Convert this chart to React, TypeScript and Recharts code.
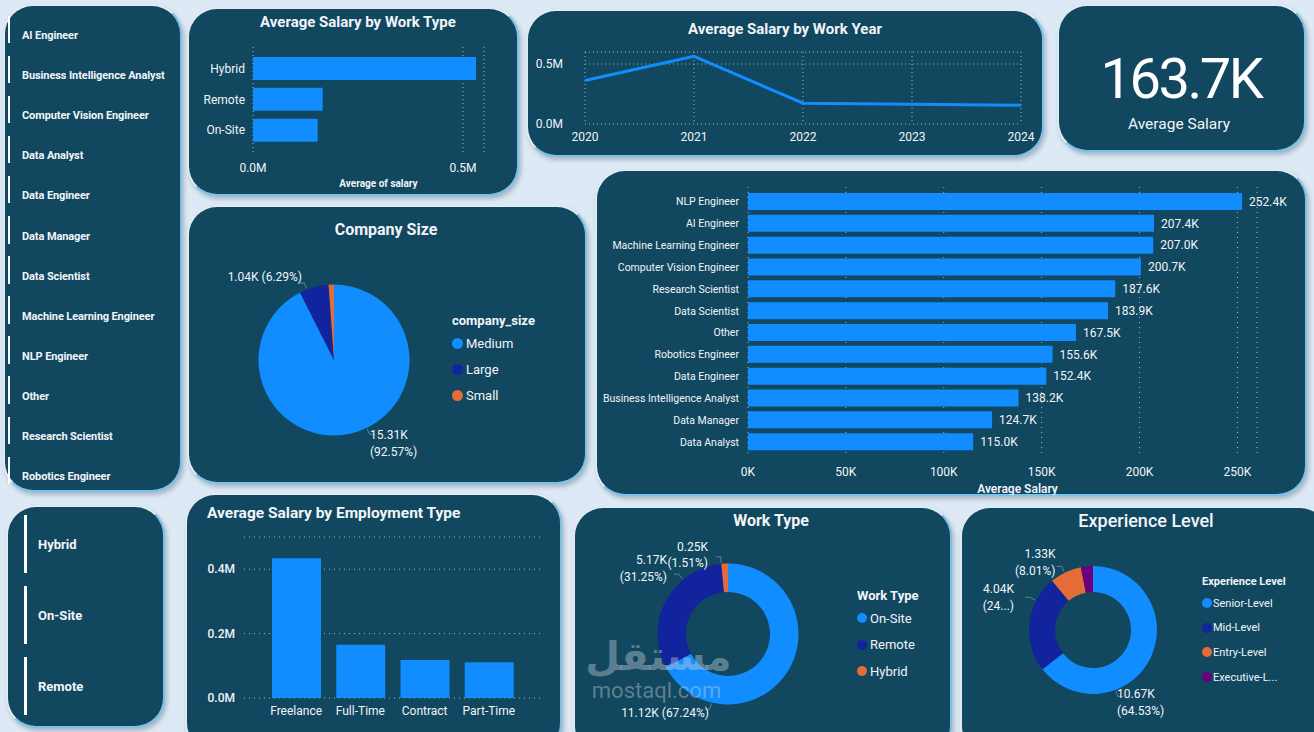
import React from "react";
import {
  BarChart,
  Bar,
  XAxis,
  YAxis,
  CartesianGrid,
  LineChart,
  Line,
  PieChart,
  Pie,
  Cell,
  Legend,
  LabelList,
  Label,
} from "recharts";

const FONT = "Roboto, 'Noto Sans', sans-serif";
const PANEL = "#11475f";
const BLUE = "#118dff";
const NAVY = "#12239e";
const ORANGE = "#e66c37";
const PURPLE = "#6b007b";
const GRID = "#9fb6c4";
const INK = "#f1f5f8";

// slicers
const jobSlicer = [
  "AI Engineer",
  "Business Intelligence Analyst",
  "Computer Vision Engineer",
  "Data Analyst",
  "Data Engineer",
  "Data Manager",
  "Data Scientist",
  "Machine Learning Engineer",
  "NLP Engineer",
  "Other",
  "Research Scientist",
  "Robotics Engineer",
];
const workSlicer = ["Hybrid", "On-Site", "Remote"];

// average salary by work type (millions)
const workTypes = ["Hybrid", "Remote", "On-Site"];
const workTypeSalary = [0.531, 0.166, 0.154];

// average salary by work year (millions)
const years = ["2020", "2021", "2022", "2023", "2024"];
const yearSalary = [0.363, 0.564, 0.173, 0.165, 0.157];

const kpiValue = "163.7K";
const kpiLabel = "Average Salary";

// company size (count in K)
const companySizes = ["Medium", "Large", "Small"];
const companyCounts = [15.31, 1.04, 0.19];
const companyPct = [92.57, 6.29, 1.14];
const companyColors = [BLUE, NAVY, ORANGE];

// average salary by job title (K)
const roles = [
  "NLP Engineer",
  "AI Engineer",
  "Machine Learning Engineer",
  "Computer Vision Engineer",
  "Research Scientist",
  "Data Scientist",
  "Other",
  "Robotics Engineer",
  "Data Engineer",
  "Business Intelligence Analyst",
  "Data Manager",
  "Data Analyst",
];
const roleSalary = [252.4, 207.4, 207.0, 200.7, 187.6, 183.9, 167.5, 155.6, 152.4, 138.2, 124.7, 115.0];
const roleTicks = [0, 50, 100, 150, 200, 250];

// average salary by employment type (millions)
const employmentTypes = ["Freelance", "Full-Time", "Contract", "Part-Time"];
const employmentSalary = [0.434, 0.165, 0.118, 0.111];

// work type counts (K)
const workNames = ["On-Site", "Remote", "Hybrid"];
const workCounts = [11.12, 5.17, 0.25];
const workPct = [67.24, 31.25, 1.51];
const workColors = [BLUE, NAVY, ORANGE];

// experience level counts (K)
const expNames = ["Senior-Level", "Mid-Level", "Entry-Level", "Executive-Level"];
const expCounts = [10.67, 4.04, 1.33, 0.5];
const expPct = [64.53, 24.43, 8.01, 3.03];
const expColors = [BLUE, NAVY, ORANGE, PURPLE];

const RAD = Math.PI / 180;
const polar = (cx: number, cy: number, r: number, a: number) => ({
  x: cx + r * Math.cos(-a * RAD),
  y: cy + r * Math.sin(-a * RAD),
});

type Spot = { dx: number; dy: number; anchor: "start" | "end"; wrap: boolean; clip?: boolean } | null;

function pieLabel(counts: number[], pcts: number[], spots: Spot[]) {
  return (p: any) => {
    const s = spots[p.index];
    if (!s) return null;
    const lx = p.cx + s.dx;
    const ly = p.cy + s.dy;
    const cnt = `${counts[p.index].toFixed(2)}K`;
    let pct = `(${pcts[p.index].toFixed(2)}%)`;
    if (s.clip) pct = pct.slice(0, 3) + "...)";
    // leader starts on the arc, inside the slice, facing the label
    const lo = Math.min(p.startAngle, p.endAngle);
    const hi = Math.max(p.startAngle, p.endAngle);
    let t = Math.atan2(-s.dy, s.dx) / RAD;
    while (t > hi) t -= 360;
    while (t < lo) t += 360;
    if (t > hi) t = t - hi < lo + 360 - t ? hi : lo;
    const a = polar(p.cx, p.cy, p.outerRadius + 1, t);
    const b = polar(p.cx, p.cy, p.outerRadius + 7, t);
    const dir = s.anchor === "start" ? 1 : -1;
    return (
      <g>
        <polyline
          points={`${a.x},${a.y} ${b.x},${b.y} ${b.x + dir * 5},${b.y}`}
          fill="none"
          stroke="#5f8599"
          strokeWidth={1}
        />
        {s.wrap ? (
          <text x={lx} y={ly} textAnchor={s.anchor} fill={INK} fontSize={12} fontFamily={FONT} dominantBaseline="central">
            <tspan x={lx} dy={0}>{cnt}</tspan>
            <tspan x={lx} dy={16.5}>{pct}</tspan>
          </text>
        ) : (
          <text x={lx} y={ly} textAnchor={s.anchor} fill={INK} fontSize={12} fontFamily={FONT} dominantBaseline="central">
            {`${cnt} ${pct}`}
          </text>
        )}
      </g>
    );
  };
}

function PieLegend({ title, names, colors, size, titleH, rowH, dot, gap }: any) {
  return (
    <div style={{ fontFamily: FONT, color: INK, whiteSpace: "nowrap" }}>
      <div style={{ height: titleH, lineHeight: `${titleH}px`, fontWeight: 700, fontSize: size }}>{title}</div>
      {names.map((n: string, i: number) => (
        <div key={n} style={{ height: rowH, display: "flex", alignItems: "center", fontSize: size }}>
          <span
            style={{ width: dot * 2, height: dot * 2, borderRadius: "50%", background: colors[i], marginRight: gap, flex: "none" }}
          />
          <span>{n}</span>
        </div>
      ))}
    </div>
  );
}

// one-line category tick (the default one wraps long names)
const RoleTick = (p: any) => (
  <text x={p.x} y={p.y} textAnchor="end" dominantBaseline="central" fill={INK} fontSize={10.5} fontFamily={FONT}>
    {p.payload.value}
  </text>
);

function Panel({ x, y, w, h }: { x: number; y: number; w: number; h: number }) {
  return (
    <div
      style={{
        position: "absolute",
        left: x,
        top: y,
        width: w,
        height: h,
        boxSizing: "border-box",
        background: PANEL,
        borderRadius: 30,
        border: "2px solid",
        borderColor: "#dfeaf3 #7cc2e8 #7cc2e8 #dfeaf3",
        boxShadow: "2px 3px 4px rgba(70,90,110,0.35)",
      }}
    />
  );
}

function T({ x, y, size, weight = 400, align = "left", children, color = INK, spacing = 0 }: any) {
  const w = 600;
  const left = align === "center" ? x - w / 2 : align === "right" ? x - w : x;
  return (
    <div
      style={{
        position: "absolute",
        left,
        top: y - 20,
        width: w,
        height: 40,
        lineHeight: "40px",
        textAlign: align,
        fontSize: size,
        fontWeight: weight,
        color,
        letterSpacing: spacing,
        whiteSpace: "nowrap",
        fontFamily: FONT,
      }}
    >
      {children}
    </div>
  );
}

function At({ x, y, children }: any) {
  return <div style={{ position: "absolute", left: x, top: y }}>{children}</div>;
}

const tickStyle = { fill: INK, fontSize: 12, fontFamily: FONT };
const fmtM = (v: number) => `${v.toFixed(1)}M`;

export default function App() {
  const workTypeData = workTypes.map((name, i) => ({ name, salary: workTypeSalary[i] }));
  const yearData = years.map((year, i) => ({ year, salary: yearSalary[i] }));
  const companyData = companySizes.map((name, i) => ({ name, value: companyCounts[i] }));
  const roleData = roles.map((name, i) => ({ name, salary: roleSalary[i] }));
  const employmentData = employmentTypes.map((name, i) => ({ name, salary: employmentSalary[i] }));
  const workData = workNames.map((name, i) => ({ name, value: workCounts[i] }));
  const expData = expNames.map((name, i) => ({ name, value: expCounts[i] }));

  return (
    <div
      style={{
        position: "absolute",
        left: 0,
        top: 0,
        width: 1314,
        height: 732,
        overflow: "hidden",
        background: "#dde9f4",
        fontFamily: FONT,
      }}
    >
      {/* panels */}
      <Panel x={3} y={4} w={179} h={488} />
      <Panel x={187} y={7} w={332} h={189} />
      <Panel x={526} y={9} w={518} h={148} />
      <Panel x={1057} y={4} w={249} h={148} />
      <Panel x={187} y={205} w={400} h={279} />
      <Panel x={595} y={169} w={712} h={327} />
      <Panel x={6} y={505} w={159} h={223} />
      <Panel x={185} y={493} w={377} h={260} />
      <Panel x={573} y={506} w={379} h={250} />
      <Panel x={960} y={506} w={370} h={250} />

      {/* job title slicer */}
      {jobSlicer.map((name, i) => {
        const cy = 36 + i * 40.1;
        return (
          <React.Fragment key={name}>
            <div style={{ position: "absolute", left: 8, top: cy - 20.5, width: 2, height: 27.5, background: "#ffffff" }} />
            <T x={22} y={cy} size={11} weight={700} spacing={-0.1}>
              {name}
            </T>
          </React.Fragment>
        );
      })}

      {/* work type slicer */}
      {workSlicer.map((name, i) => {
        const cy = 545 + i * 71;
        return (
          <React.Fragment key={name}>
            <div style={{ position: "absolute", left: 24, top: cy - 30, width: 2.5, height: 58, background: "#ffffff" }} />
            <T x={38} y={cy} size={13} weight={700}>
              {name}
            </T>
          </React.Fragment>
        );
      })}

      {/* titles */}
      <T x={358} y={21.5} size={15} weight={700} align="center">
        Average Salary by Work Type
      </T>
      <T x={785} y={28.5} size={15} weight={700} align="center">
        Average Salary by Work Year
      </T>
      <T x={386} y={230} size={16} weight={700} align="center">
        Company Size
      </T>
      <T x={207} y={513} size={15.5} weight={700}>
        Average Salary by Employment Type
      </T>
      <T x={771} y={521} size={16} weight={700} align="center">
        Work Type
      </T>
      <T x={1146} y={521} size={18} weight={500} align="center">
        Experience Level
      </T>

      {/* KPI */}
      <T x={1181} y={79} size={56} weight={400} align="center" spacing={-2.5} color="#ffffff">
        {kpiValue}
      </T>
      <T x={1179} y={124} size={15.5} align="center">
        {kpiLabel}
      </T>

      {/* Average salary by work type */}
      <At x={190} y={40}>
        <BarChart width={310} height={150} data={workTypeData} layout="vertical" margin={{ top: 7, right: 16, bottom: 0, left: 0 }}>
          <CartesianGrid horizontal={false} stroke={GRID} strokeDasharray="1 3" />
          <XAxis
            type="number"
            domain={[0, 0.55]}
            ticks={[0, 0.5]}
            tickFormatter={fmtM}
            axisLine={false}
            tickLine={false}
            tick={tickStyle}
            height={35}
          >
            <Label value="Average of salary" position="insideBottom" offset={3} dx={10} fill={INK} fontSize={10} fontWeight={700} fontFamily={FONT} />
          </XAxis>
          <YAxis
            type="category"
            dataKey="name"
            width={63}
            axisLine={false}
            tickLine={false}
            tick={tickStyle}
            padding={{ top: 6, bottom: 9.5 }}
          />
          <Bar dataKey="salary" fill={BLUE} barSize={23} isAnimationActive={false} />
        </BarChart>
      </At>

      {/* Average salary by work year */}
      <At x={530} y={40}>
        <LineChart width={510} height={108} data={yearData} margin={{ top: 12, right: 19, bottom: 0, left: 10 }}>
          <CartesianGrid stroke={GRID} strokeDasharray="1 3" />
          <XAxis dataKey="year" scale="point" axisLine={false} tickLine={false} tick={tickStyle} height={24} />
          <YAxis
            domain={[0, 0.6]}
            ticks={[0, 0.5]}
            tickFormatter={fmtM}
            width={45}
            axisLine={false}
            tickLine={false}
            tick={tickStyle}
            tickMargin={16}
          />
          <Line type="linear" dataKey="salary" stroke={BLUE} strokeWidth={3} dot={false} isAnimationActive={false} />
        </LineChart>
      </At>

      {/* Company size pie */}
      <At x={190} y={250}>
        <PieChart width={390} height={225} margin={{ top: 0, right: 0, bottom: 0, left: 0 }}>
          <Pie
            data={companyData}
            dataKey="value"
            nameKey="name"
            cx={144}
            cy={110}
            outerRadius={75.5}
            startAngle={90}
            endAngle={-270}
            stroke="none"
            labelLine={false}
            label={pieLabel(companyCounts, companyPct, [
              { dx: 36, dy: 75, anchor: "start", wrap: true },
              { dx: -32, dy: -83, anchor: "end", wrap: false },
              null,
            ])}
            isAnimationActive={false}
          >
            {companyData.map((d, i) => (
              <Cell key={d.name} fill={companyColors[i]} />
            ))}
          </Pie>
          <Legend
            wrapperStyle={{ left: 262, top: 61, width: 120 }}
            content={() => (
              <PieLegend title="company_size" names={companySizes} colors={companyColors} size={13} titleH={19} rowH={26} dot={5.5} gap={3} />
            )}
          />
        </PieChart>
      </At>

      {/* Average salary by job title */}
      <At x={596} y={180}>
        <BarChart width={705} height={315} data={roleData} layout="vertical" margin={{ top: 7, right: 44, bottom: 0, left: 2 }}>
          <CartesianGrid horizontal={false} stroke={GRID} strokeDasharray="1 4" />
          <XAxis
            type="number"
            domain={[0, 260]}
            ticks={roleTicks}
            tickFormatter={(v: number) => `${v}K`}
            axisLine={false}
            tickLine={false}
            tick={tickStyle}
            tickMargin={4.5}
            height={38}
          >
            <Label value="Average Salary" position="insideBottom" offset={2} dx={15} fill={INK} fontSize={12} fontWeight={600} fontFamily={FONT} />
          </XAxis>
          <YAxis
            type="category"
            dataKey="name"
            width={150}
            axisLine={false}
            tickLine={false}
            tick={<RoleTick />}
            tickMargin={3}
            padding={{ top: 4, bottom: 4 }}
            interval={0}
          />
          <Bar dataKey="salary" fill={BLUE} barSize={17} isAnimationActive={false}>
            <LabelList
              dataKey="salary"
              position="right"
              offset={7}
              formatter={(v: any) => `${Number(v).toFixed(1)}K`}
              fill={INK}
              fontSize={12}
              fontFamily={FONT}
            />
          </Bar>
        </BarChart>
      </At>

      {/* Average salary by employment type */}
      <At x={200} y={530}>
        <BarChart width={345} height={193} data={employmentData} margin={{ top: 7, right: 5, bottom: 0, left: 4 }}>
          <CartesianGrid vertical={false} stroke={GRID} strokeDasharray="1 4" />
          <XAxis dataKey="name" axisLine={false} tickLine={false} tick={tickStyle} padding={{ left: 20, right: 19 }} height={25} interval={0} />
          <YAxis
            domain={[0, 0.5]}
            ticks={[0, 0.2, 0.4]}
            tickFormatter={fmtM}
            width={40}
            axisLine={false}
            tickLine={false}
            tick={{ ...tickStyle, fontWeight: 500 }}
            tickMargin={3}
          />
          <Bar dataKey="salary" fill={BLUE} barSize={49} isAnimationActive={false} />
        </BarChart>
      </At>

      {/* Work type donut */}
      <At x={580} y={535}>
        <PieChart width={360} height={195} margin={{ top: 0, right: 0, bottom: 0, left: 0 }}>
          <Pie
            data={workData}
            dataKey="value"
            nameKey="name"
            cx={148}
            cy={99}
            innerRadius={42}
            outerRadius={70.5}
            startAngle={90}
            endAngle={-270}
            stroke="none"
            labelLine={false}
            label={pieLabel(workCounts, workPct, [
              { dx: -19, dy: 79, anchor: "end", wrap: false },
              { dx: -61, dy: -74, anchor: "end", wrap: true },
              { dx: -20, dy: -87.5, anchor: "end", wrap: true },
            ])}
            isAnimationActive={false}
          >
            {workData.map((d, i) => (
              <Cell key={d.name} fill={workColors[i]} />
            ))}
          </Pie>
          <Legend
            wrapperStyle={{ left: 277, top: 51, width: 90 }}
            content={() => (
              <PieLegend title="Work Type" names={workNames} colors={workColors} size={13} titleH={19} rowH={26.5} dot={5} gap={3} />
            )}
          />
        </PieChart>
      </At>

      {/* Experience level donut */}
      <At x={965} y={535}>
        <PieChart width={340} height={195} margin={{ top: 0, right: 0, bottom: 0, left: 0 }}>
          <Pie
            data={expData}
            dataKey="value"
            nameKey="name"
            cx={128}
            cy={95}
            innerRadius={38}
            outerRadius={64}
            startAngle={90}
            endAngle={-270}
            stroke="none"
            labelLine={false}
            label={pieLabel(expCounts, expPct, [
              { dx: 24, dy: 64, anchor: "start", wrap: true },
              { dx: -79, dy: -41, anchor: "end", wrap: true, clip: true },
              { dx: -37.5, dy: -76, anchor: "end", wrap: true },
              null,
            ])}
            isAnimationActive={false}
          >
            {expData.map((d, i) => (
              <Cell key={d.name} fill={expColors[i]} />
            ))}
          </Pie>
          <Legend
            wrapperStyle={{ left: 237, top: 38, width: 105, overflow: "hidden" }}
            content={() => (
              <PieLegend
                title="Experience Level"
                names={expNames.map((n) => (n.length > 12 ? n.slice(0, 11) + "..." : n))}
                colors={expColors}
                size={11}
                titleH={18}
                rowH={24.6}
                dot={5}
                gap={1}
              />
            )}
          />
        </PieChart>
      </At>

      {/* watermark */}
      <div
        style={{
          position: "absolute",
          left: 576,
          top: 636,
          width: 165,
          textAlign: "center",
          color: "rgba(200,210,220,0.42)",
          fontFamily: "'DejaVu Sans', sans-serif",
          fontWeight: 700,
          fontSize: 40,
          lineHeight: "40px",
          pointerEvents: "none",
        }}
      >
        مستقل
      </div>
      <div
        style={{
          position: "absolute",
          left: 574,
          top: 681,
          width: 165,
          textAlign: "center",
          color: "rgba(200,210,220,0.42)",
          fontFamily: FONT,
          fontSize: 22,
          lineHeight: "20px",
          pointerEvents: "none",
        }}
      >
        mostaql.com
      </div>
    </div>
  );
}
